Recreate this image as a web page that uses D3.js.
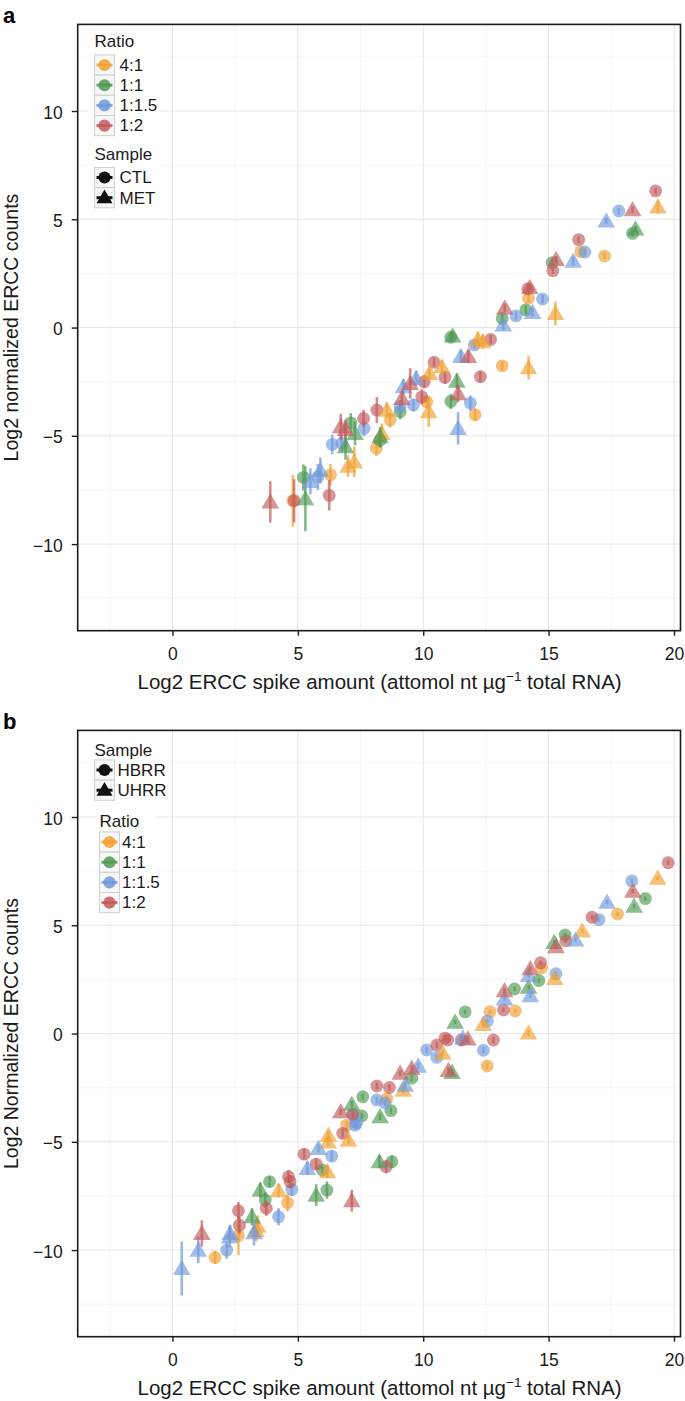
<!DOCTYPE html>
<html><head><meta charset="utf-8">
<script src="https://cdn.jsdelivr.net/npm/d3@7"></script>
<style>body{margin:0;background:#fff} text{font-family:"Liberation Sans",Arial,Helvetica,sans-serif}</style>
</head><body><svg id="c" width="685" height="1401"></svg>
<script>
// ---- shared labels / ticks ----
const xTicks = [0, 5, 10, 15, 20];
const yTicks = [-10, -5, 0, 5, 10];
const xMinor = [-2.5, 2.5, 7.5, 12.5, 17.5];
const yMinor = [-12.5, -7.5, -2.5, 2.5, 7.5, 12.5];
const ratios = ["4:1", "1:1", "1:1.5", "1:2"];
const ratioColors = ["#F0A030", "#4F9A55", "#7099DB", "#C25B5B"];
const samplesA = ["CTL", "MET"];
const samplesB = ["HBRR", "UHRR"];

// ---- panel a data: [log2 spike amount, log2 count, error half-range] ----
const aCTL_4to1 = [[17.23,3.3,0.15],[16.28,3.5,0.15],[14.2,1.35,0.2],[13.15,-1.77,0.2],[12.07,-4.03,0.3],[10.14,-3.43,0.3],[8.68,-4.27,0.35],[8.13,-5.58,0.35],[6.3,-6.8,0.5],[4.8,-8.0,1.2]];
const aCTL_1to1 = [[18.35,4.35,0.15],[15.14,3.0,0.15],[14.09,0.81,0.2],[13.15,0.42,0.2],[11.1,-0.45,0.2],[11.1,-3.41,0.35],[9.08,-3.89,0.35],[7.11,-4.4,0.45],[8.28,-5.2,0.35],[5.22,-6.92,0.6]];
const aCTL_1to1p5 = [[17.8,5.38,0.15],[16.45,3.49,0.15],[14.76,1.32,0.2],[13.7,0.54,0.2],[12.04,-0.8,0.2],[11.88,-3.49,0.35],[9.61,-3.58,0.3],[9.08,-3.66,0.3],[7.64,-4.66,0.35],[6.75,-5.35,0.4],[6.37,-5.4,0.45],[5.8,-6.9,0.6]];
const aCTL_1to2 = [[19.27,6.31,0.15],[16.2,4.06,0.15],[15.17,2.63,0.15],[14.17,1.79,0.2],[12.69,-0.55,0.2],[10.43,-1.6,0.2],[12.28,-2.27,0.25],[10.87,-2.3,0.3],[10.04,-2.5,0.3],[9.94,-3.2,0.35],[8.15,-3.81,0.6],[7.62,-4.2,0.4],[6.25,-7.75,0.7],[4.85,-8.0,1.0]];
const aMET_4to1 = [[19.36,5.57,0.3],[15.27,0.65,0.55],[14.2,-1.85,0.55],[12.18,-0.55,0.35],[12.38,-0.65,0.35],[10.74,-1.81,0.3],[10.25,-2.12,0.3],[10.22,-3.88,0.7],[8.55,-3.81,0.35],[8.35,-4.89,0.45],[7.25,-6.2,0.7],[7.0,-6.4,0.5]];
const aMET_1to1 = [[18.47,4.55,0.15],[11.17,-0.39,0.2],[11.34,-2.47,0.35],[8.28,-5.04,0.45],[7.28,-4.89,0.55],[6.9,-5.5,0.6],[5.3,-7.9,1.5]];
const aMET_1to1p5 = [[17.3,4.92,0.15],[15.98,3.07,0.2],[14.36,0.7,0.2],[13.19,0.12,0.25],[11.5,-1.33,0.3],[9.72,-2.35,0.35],[9.21,-2.73,0.35],[11.39,-4.66,0.75],[5.9,-6.6,0.6],[5.5,-7.1,0.6]];
const aMET_1to2 = [[18.35,5.44,0.15],[15.3,3.15,0.15],[14.25,1.85,0.2],[13.25,0.91,0.2],[11.8,-1.33,0.3],[11.39,-3.05,0.4],[9.48,-2.58,0.7],[9.15,-3.27,0.35],[6.9,-4.7,0.45],[6.71,-4.58,0.6],[3.9,-8.05,0.95]];

// ---- panel b data ----
const bHBRR_4to1 = [[17.75,5.52,0.1],[14.72,3.03,0.1],[13.67,1.04,0.1],[12.66,1.01,0.1],[12.55,-1.5,0.15],[8.55,-3.0,0.15],[6.95,-4.23,0.2],[4.59,-7.81,0.4],[2.63,-9.34,0.9],[1.7,-10.34,0.3]];
const bHBRR_1to1 = [[18.86,6.23,0.1],[15.66,4.55,0.1],[14.61,2.45,0.1],[13.64,2.06,0.1],[11.67,1.0,0.1],[9.54,-2.06,0.15],[7.59,-2.92,0.15],[8.71,-3.56,0.15],[7.55,-3.81,0.15],[5.98,-6.3,0.2],[6.16,-7.23,0.4],[8.75,-5.92,0.3],[3.87,-6.84,0.25],[3.7,-7.69,0.35]];
const bHBRR_1to1p5 = [[18.32,7.05,0.1],[17.01,5.26,0.1],[15.29,2.76,0.1],[12.56,0.58,0.1],[12.4,-0.77,0.15],[10.14,-0.76,0.15],[10.54,-1.1,0.15],[8.48,-3.21,0.15],[8.15,-3.07,0.15],[7.2,-3.76,0.15],[7.35,-4.13,0.2],[7.28,-4.23,0.2],[6.35,-5.66,0.25],[4.76,-7.2,0.3],[4.23,-8.46,0.4],[2.16,-10.0,0.4]];
const bHBRR_1to2 = [[19.77,7.89,0.1],[16.73,5.37,0.1],[15.69,4.28,0.1],[14.68,3.27,0.1],[13.2,1.09,0.1],[12.8,-0.3,0.15],[11.52,-0.3,0.15],[10.98,-0.3,0.15],[10.87,-0.21,0.15],[10.54,-0.53,0.15],[8.65,-2.49,0.15],[8.15,-2.42,0.15],[7.19,-3.72,0.2],[6.79,-4.61,0.2],[5.73,-6.03,0.25],[5.25,-5.57,0.25],[4.69,-6.84,0.3],[4.63,-6.61,0.3],[8.52,-6.15,0.3],[3.74,-8.07,0.35],[2.63,-8.18,0.4],[2.67,-8.85,0.4]];
const bUHRR_4to1 = [[19.35,7.18,0.1],[16.34,4.74,0.1],[15.25,2.55,0.1],[14.2,0.03,0.15],[12.39,0.42,0.15],[10.78,-0.9,0.15],[9.2,-2.61,0.15],[7.02,-4.92,0.2],[6.22,-4.69,0.2],[6.21,-5.0,0.2],[6.18,-6.38,0.3],[4.23,-7.26,0.3],[3.4,-8.9,0.5],[3.34,-9.1,0.5]];
const bUHRR_1to1 = [[18.41,5.88,0.1],[15.22,4.21,0.1],[14.2,2.14,0.1],[11.27,0.53,0.1],[11.15,-1.8,0.15],[7.15,-3.26,0.15],[8.28,-3.84,0.15],[8.25,-5.92,0.3],[5.73,-7.46,0.5],[3.5,-7.23,0.35],[3.17,-8.46,0.4]];
const bUHRR_1to1p5 = [[17.33,6.07,0.1],[16.07,4.32,0.1],[14.2,2.68,0.1],[14.27,1.75,0.1],[13.24,1.6,0.1],[11.58,-0.2,0.15],[9.8,-1.5,0.15],[9.28,-2.38,0.15],[5.82,-5.3,0.2],[5.38,-6.23,0.3],[3.25,-9.19,0.6],[2.28,-9.39,0.5],[2.3,-9.23,0.4],[1.03,-10.0,0.6],[0.37,-10.85,1.25]];
const bUHRR_1to2 = [[18.36,6.58,0.1],[15.29,4.01,0.1],[14.27,3.0,0.1],[13.24,1.98,0.1],[11.78,-0.25,0.15],[11.0,-1.7,0.15],[9.54,-1.6,0.15],[9.08,-1.83,0.15],[6.71,-3.61,0.15],[7.15,-7.72,0.5],[1.17,-9.23,0.6]];

const svg = d3.select("#c");
const FONT = '"Liberation Sans",Arial,Helvetica,sans-serif';

function drawPanel(top, letter, yTitle, groups) {
  const L = 77.7, R = 680.5, H = 606.3;
  const x = d3.scaleLinear().domain([-3.78, 20.26]).range([L, R]);
  const y = d3.scaleLinear().domain([-14, 14]).range([top + H, top]);
  const g = svg.append("g");
  // grid
  g.selectAll(".mx").data(xMinor).join("line").attr("x1", d => x(d)).attr("x2", d => x(d))
    .attr("y1", top).attr("y2", top + H).attr("stroke", "#f2f2f2").attr("stroke-width", 0.8);
  g.selectAll(".my").data(yMinor).join("line").attr("y1", d => y(d)).attr("y2", d => y(d))
    .attr("x1", L).attr("x2", R).attr("stroke", "#f2f2f2").attr("stroke-width", 0.8);
  g.selectAll(".Mx").data(xTicks).join("line").attr("x1", d => x(d)).attr("x2", d => x(d))
    .attr("y1", top).attr("y2", top + H).attr("stroke", "#e6e6e6").attr("stroke-width", 1);
  g.selectAll(".My").data(yTicks).join("line").attr("y1", d => y(d)).attr("y2", d => y(d))
    .attr("x1", L).attr("x2", R).attr("stroke", "#e6e6e6").attr("stroke-width", 1);

  // points
  const pg = g.append("g");
  groups.forEach(gr => {
    const col = ratioColors[gr.ratio];
    const sym = d3.symbol().type(gr.tri ? d3.symbolTriangle : d3.symbolCircle).size(gr.tri ? 135 : 130);
    const gg = pg.append("g");
    gr.data.forEach(d => {
      gg.append("line").attr("x1", x(d[0])).attr("x2", x(d[0]))
        .attr("y1", y(d[1] - d[2])).attr("y2", y(d[1] + d[2]))
        .attr("stroke", col).attr("stroke-width", 2.6).attr("stroke-opacity", 0.7);
      gg.append("path").attr("d", sym)
        .attr("transform", `translate(${x(d[0])},${y(d[1]) + (gr.tri ? 1.5 : 0)})`)
        .attr("fill", col).attr("fill-opacity", 0.65);
    });
  });

  // border
  g.append("rect").attr("x", L).attr("y", top).attr("width", R - L).attr("height", H)
    .attr("fill", "none").attr("stroke", "#1a1a1a").attr("stroke-width", 1.6);

  // axes
  const ax = g.append("g").attr("transform", `translate(0,${top + H})`)
    .call(d3.axisBottom(x).tickValues(xTicks).tickSize(5).tickPadding(11.5));
  const ay = g.append("g").attr("transform", `translate(${L},0)`)
    .call(d3.axisLeft(y).tickValues(yTicks).tickSize(6).tickPadding(9));
  [ax, ay].forEach(a => {
    a.select(".domain").remove();
    a.selectAll("line").attr("stroke", "#1a1a1a").attr("stroke-width", 1.4);
    a.selectAll("text").attr("font-size", 17.5).attr("fill", "#1a1a1a").attr("font-family", FONT);
  });
  ay.selectAll("text").attr("dy", "0.4em");

  // x title
  const xt = g.append("text").attr("x", (L + R) / 2 + 0.5).attr("y", top + H + 58)
    .attr("text-anchor", "middle").attr("font-size", 20.5).attr("fill", "#1a1a1a");
  xt.append("tspan").text("Log2 ERCC spike amount (attomol nt \u00B5g");
  xt.append("tspan").attr("dy", -8).attr("font-size", 13.5).text("\u22121");
  xt.append("tspan").attr("dy", 8).text(" total RNA)");
  // y title
  g.append("text").attr("transform", `translate(18,${top + H / 2}) rotate(-90)`)
    .attr("text-anchor", "middle").attr("font-size", 19.5).attr("fill", "#1a1a1a").text(yTitle);
  // panel letter
  g.append("text").attr("x", 3).attr("y", top - 1.5).attr("font-size", 22)
    .attr("font-weight", "bold").attr("fill", "#000").text(letter);
  return g;
}

function legendBlock(g, x0, titleY, title, firstY, labels, glyph, labelX, bg) {
  if (bg) g.append("rect").attr("x", bg[0]).attr("y", bg[1]).attr("width", bg[2]).attr("height", bg[3]).attr("fill", "#fff");
  g.append("text").attr("x", x0).attr("y", titleY).attr("font-size", 17).attr("fill", "#1a1a1a").text(title);
  labels.forEach((lab, i) => {
    const cy = firstY + i * 20.2;
    g.append("rect").attr("x", x0).attr("y", cy - 10.1).attr("width", 20).attr("height", 20.2)
      .attr("fill", "#f7f7f7").attr("stroke", "#cfcfcf").attr("stroke-width", 1);
    const c = glyph.color(i), tri = glyph.tri(i);
    g.append("line").attr("x1", x0 + 2).attr("x2", x0 + 18).attr("y1", cy).attr("y2", cy)
      .attr("stroke", c).attr("stroke-width", 3);
    g.append("path").attr("d", d3.symbol().type(tri ? d3.symbolTriangle : d3.symbolCircle).size(tri ? 110 : 115))
      .attr("transform", `translate(${x0 + 10},${cy + (tri ? 1 : 0)})`).attr("fill", c);
    g.append("text").attr("x", labelX).attr("y", cy + 5.8).attr("font-size", 17).attr("fill", "#1a1a1a").text(lab);
  });
}

// ---- panel a ----
const gA = drawPanel(24.4, "a", "Log2 normalized ERCC counts", [
  {ratio: 0, tri: false, data: aCTL_4to1}, {ratio: 1, tri: false, data: aCTL_1to1},
  {ratio: 2, tri: false, data: aCTL_1to1p5}, {ratio: 3, tri: false, data: aCTL_1to2},
  {ratio: 0, tri: true, data: aMET_4to1}, {ratio: 1, tri: true, data: aMET_1to1},
  {ratio: 2, tri: true, data: aMET_1to1p5}, {ratio: 3, tri: true, data: aMET_1to2}
]);
const ratioGlyph = {color: i => d3.color(ratioColors[i]).copy({opacity: 0.85}), tri: () => false};
const sampleGlyph = {color: () => "#111", tri: i => i === 1};
legendBlock(gA, 94.5, 47, "Ratio", 65, ratios, ratioGlyph, 119.5, [88, 28, 72, 182]);
legendBlock(gA, 94.5, 159.5, "Sample", 177.5, samplesA, sampleGlyph, 119.5, null);

// ---- panel b ----
const gB = drawPanel(730.4, "b", "Log2 Normalized ERCC counts", [
  {ratio: 0, tri: false, data: bHBRR_4to1}, {ratio: 1, tri: false, data: bHBRR_1to1},
  {ratio: 2, tri: false, data: bHBRR_1to1p5}, {ratio: 3, tri: false, data: bHBRR_1to2},
  {ratio: 0, tri: true, data: bUHRR_4to1}, {ratio: 1, tri: true, data: bUHRR_1to1},
  {ratio: 2, tri: true, data: bUHRR_1to1p5}, {ratio: 3, tri: true, data: bUHRR_1to2}
]);
legendBlock(gB, 94.5, 756, "Sample", 770, samplesB, sampleGlyph, 117.5, [88, 735, 80, 70]);
legendBlock(gB, 99.5, 827, "Ratio", 842, ratios, ratioGlyph, 122, [97, 808, 58, 106]);
</script></body></html>
